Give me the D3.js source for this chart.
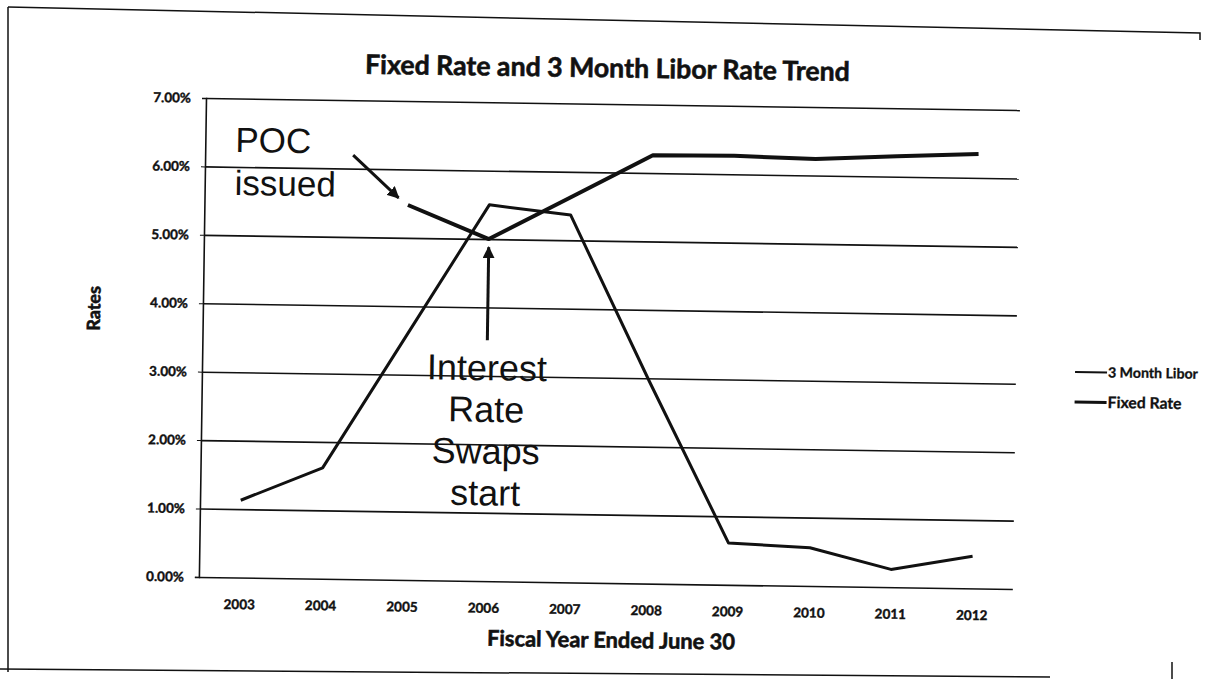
<!DOCTYPE html>
<html>
<head>
<meta charset="utf-8">
<script src="https://cdn.jsdelivr.net/npm/d3@7/dist/d3.min.js"></script>
<style>
  body { margin: 0; background: #fff; }
  svg { display: block; }
</style>
</head>
<body>
<svg id="chart" width="1209" height="679"></svg>
<script>
// values (percent)
var years = ["2003", "2004", "2005", "2006", "2007", "2008", "2009", "2010", "2011", "2012"];
var liborRates = [1.13, 1.62, 3.56, 5.50, 5.37, 2.95, 0.61, 0.56, 0.26, 0.47];
var fixedRates = [null, null, 5.48, 5.00, 5.63, 6.26, 6.27, 6.24, 6.30, 6.35];
var yTicks = [0, 0.01, 0.02, 0.03, 0.04, 0.05, 0.06, 0.07];
var seriesNames = ["3 Month Libor", "Fixed Rate"];
var pocLines = ["POC", "issued"];
var swapLines = ["Interest", "Rate", "Swaps", "start"];

var svg = d3.select("#chart");
var plot = {left: 206, right: 1020, top: 98, bottom: 577};
var ink = "#111";
var labelFont = "Lato, 'Open Sans', sans-serif";

// the page was scanned a little crooked, so the whole chart sits in a tilted group
var tilt = 0.85;

var x = d3.scaleBand().domain(years).range([plot.left, plot.right]);
var y = d3.scaleLinear().domain([0, 0.07]).range([plot.bottom, plot.top]);
var cx = function(i) { return x(years[i]) + x.bandwidth() / 2; };

// scan frame around the chart area
var frame = svg.append("g").attr("fill", "none").attr("stroke", ink).attr("stroke-width", 1.5);
frame.append("path").attr("d", "M8,7 L1200,33 L1200,40");
frame.append("path").attr("d", "M8,7 L8,672");
frame.append("path").attr("d", "M0,669 L1050,677");
frame.append("path").attr("d", "M1172,662 L1172,679");

var g = svg.append("g")
  .attr("transform", "rotate(" + tilt + "," + plot.left + "," + plot.top + ")");

var defs = svg.append("defs");
defs.append("marker")
  .attr("id", "head")
  .attr("viewBox", "0 0 10 10")
  .attr("refX", 9).attr("refY", 5)
  .attr("markerWidth", 4).attr("markerHeight", 4)
  .attr("orient", "auto")
  .append("path").attr("d", "M0,0 L10,5 L0,10 Z").attr("fill", ink);

// scanned print is heavy, thicken the small labels a bit
function heavy(sel, w) {
  sel.attr("stroke", ink).attr("stroke-width", w).attr("paint-order", "stroke");
}

// horizontal gridlines
var grid = g.append("g")
  .attr("transform", "translate(" + plot.left + ",0)")
  .call(d3.axisLeft(y).tickValues(yTicks).tickSize(-(plot.right - plot.left)).tickFormat(""));
grid.select(".domain").remove();
grid.selectAll("line").attr("stroke", ink).attr("stroke-width", 1.6);

// y axis
var yAxis = g.append("g")
  .attr("transform", "translate(" + plot.left + ",0)")
  .call(d3.axisLeft(y).tickValues(yTicks).tickSize(4).tickPadding(11).tickFormat(d3.format(".2%")));
yAxis.select(".domain").attr("stroke", ink).attr("stroke-width", 1.6);
yAxis.selectAll("line").attr("stroke", ink);
yAxis.selectAll("text")
  .attr("font-family", labelFont)
  .attr("font-weight", "bold")
  .attr("font-size", 13.5)
  .attr("fill", ink)
  .call(heavy, 0.4);

// x axis
var xAxis = g.append("g")
  .attr("transform", "translate(0," + plot.bottom + ")")
  .call(d3.axisBottom(x).tickSize(0).tickPadding(22));
xAxis.select(".domain").remove();
xAxis.selectAll("text")
  .attr("font-family", labelFont)
  .attr("font-weight", "bold")
  .attr("font-size", 13.5)
  .attr("fill", ink)
  .call(heavy, 0.4);

// series
var line = d3.line()
  .defined(function(d) { return d != null; })
  .x(function(d, i) { return cx(i); })
  .y(function(d) { return y(d / 100); });

g.append("path")
  .datum(liborRates)
  .attr("d", line)
  .attr("fill", "none")
  .attr("stroke", ink)
  .attr("stroke-width", 3)
  .attr("stroke-linejoin", "round");

g.append("path")
  .datum(fixedRates)
  .attr("d", line)
  .attr("fill", "none")
  .attr("stroke", ink)
  .attr("stroke-width", 4)
  .attr("stroke-linejoin", "round");

function fitText(sel, target) {
  var w = sel.node().getComputedTextLength();
  var fs = parseFloat(sel.attr("font-size"));
  sel.attr("font-size", fs * target / w);
}

// title
var title = g.append("text")
  .attr("x", 607).attr("y", 62).attr("dy", "0.35em")
  .attr("text-anchor", "middle")
  .attr("font-family", labelFont)
  .attr("font-weight", "bold")
  .attr("font-size", 24)
  .attr("fill", ink)
  .text("Fixed Rate and 3 Month Libor Rate Trend");
fitText(title, 485);
heavy(title, 0.6);

// axis titles
var xTitle = g.append("text")
  .attr("x", 619).attr("y", 634).attr("dy", "0.35em")
  .attr("text-anchor", "middle")
  .attr("font-family", labelFont)
  .attr("font-weight", "bold")
  .attr("font-size", 19)
  .attr("fill", ink)
  .text("Fiscal Year Ended June 30");
fitText(xTitle, 248);
heavy(xTitle, 0.6);

var yTitle = g.append("text")
  .attr("transform", "translate(97,310) rotate(-90)")
  .attr("dy", "0.35em")
  .attr("text-anchor", "middle")
  .attr("font-family", labelFont)
  .attr("font-weight", "bold")
  .attr("font-size", 18)
  .attr("fill", ink)
  .text("Rates");
heavy(yTitle, 0.6);

// legend
var legend = g.append("g").attr("transform", "translate(" + (plot.right + 59) + ",359)");
var legendItems = legend.selectAll("g")
  .data(seriesNames)
  .join("g")
  .attr("transform", function(d, i) { return "translate(0," + i * 30 + ")"; });
legendItems.append("line")
  .attr("x1", 0).attr("x2", 32)
  .attr("stroke", ink)
  .attr("stroke-width", function(d, i) { return i === 0 ? 2 : 3; });
legendItems.append("text")
  .attr("x", 33).attr("dy", "0.35em")
  .attr("font-family", labelFont)
  .attr("font-weight", "bold")
  .attr("font-size", 12)
  .attr("fill", ink)
  .text(function(d) { return d; })
  .each(function(d, i) { fitText(d3.select(this), i === 0 ? 90 : 74); })
  .call(heavy, 0.3);

// annotations
var note = g.append("g")
  .attr("font-family", "'Liberation Sans', Arial, sans-serif")
  .attr("font-size", 35)
  .attr("fill", ink);

note.selectAll("text.poc")
  .data(pocLines)
  .join("text")
  .attr("class", "poc")
  .attr("x", 236)
  .attr("y", function(d, i) { return 151.5 + i * 43; })
  .text(function(d) { return d; });

note.append("line")
  .attr("x1", 354).attr("y1", 153)
  .attr("x2", 400).attr("y2", 195)
  .attr("stroke", ink).attr("stroke-width", 3)
  .attr("marker-end", "url(#head)");

note.selectAll("text.swap")
  .data(swapLines)
  .join("text")
  .attr("class", "swap")
  .attr("x", cx(3))
  .attr("y", function(d, i) { return 376 + i * 41.7; })
  .attr("text-anchor", "middle")
  .attr("font-size", 36)
  .text(function(d) { return d; });

note.append("line")
  .attr("x1", cx(3)).attr("y1", y(0.0352))
  .attr("x2", cx(3)).attr("y2", y(0.0488))
  .attr("stroke", ink).attr("stroke-width", 3)
  .attr("marker-end", "url(#head)");
</script>
</body>
</html>
